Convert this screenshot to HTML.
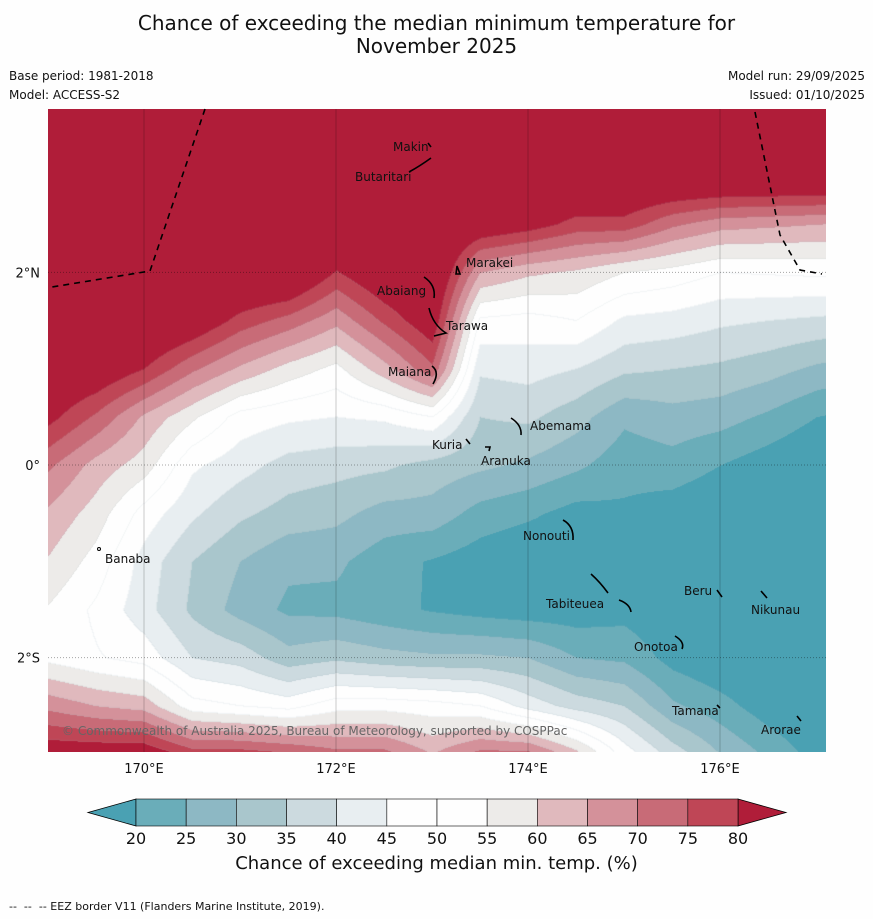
<!DOCTYPE html>
<html><head><meta charset="utf-8">
<style>
body{margin:0;background:#fefefe;font-family:"Liberation Sans","DejaVu Sans",sans-serif;}
#wrap{position:relative;width:873px;height:919px;overflow:hidden;background:#fefefe;}
.t{position:absolute;white-space:nowrap;color:#111;}
.lbl{position:absolute;font-family:"DejaVu Sans","Liberation Sans",sans-serif;font-size:12px;color:#111;white-space:nowrap;}
</style></head><body>
<div id="wrap">
<div class="t" style="left:0;width:873px;top:12px;text-align:center;font-size:20px;line-height:23px;font-family:'DejaVu Sans','Liberation Sans',sans-serif;">Chance of exceeding the median minimum temperature for<br>November 2025</div>
<div class="t" style="left:9px;top:69px;font-size:12px;font-family:'DejaVu Sans',sans-serif;">Base period: 1981-2018</div>
<div class="t" style="left:9px;top:88px;font-size:12px;font-family:'DejaVu Sans',sans-serif;">Model: ACCESS-S2</div>
<div class="t" style="right:8px;top:69px;font-size:12px;font-family:'DejaVu Sans',sans-serif;">Model run: 29/09/2025</div>
<div class="t" style="right:8px;top:88px;font-size:12px;font-family:'DejaVu Sans',sans-serif;">Issued: 01/10/2025</div>
<canvas id="map" width="778" height="643" style="position:absolute;left:48px;top:109px;"></canvas>
<svg id="ov" width="873" height="919" style="position:absolute;left:0;top:0;"></svg>
<div id="islands"></div>
<div class="t" style="left:62px;top:724px;font-size:12px;color:#666;font-family:'DejaVu Sans',sans-serif;">© Commonwealth of Australia 2025, Bureau of Meteorology, supported by COSPPac</div>
<div id="cbar"></div>
<div class="t" style="left:0;width:873px;text-align:center;top:853px;font-size:18px;font-family:'DejaVu Sans',sans-serif;">Chance of exceeding median min. temp. (%)</div>
<div class="t" style="left:9px;top:900px;font-size:11px;font-family:'DejaVu Sans',sans-serif;">-- &nbsp;-- &nbsp;-- EEZ border V11 (Flanders Marine Institute, 2019).</div>
</div>
<script>
// grid longitudes (columns) and latitudes (rows)
const lons=[168,168.5,169,169.5,170,170.5,171,171.5,172,172.5,173,173.5,174,174.5,175,175.5,176,176.5,177,177.5];
const lats=[4,3.5,3,2.5,2,1.5,1,0.5,0,-0.5,-1,-1.5,-2,-2.5,-3];
// probability values per longitude column (top to bottom by lat)
const c168_0=[90,90,90,90,90,90,90,87,80,72,65,59,57,75,90];
const c168_5=[90,90,90,90,90,90,90,84,76,68,62,57,55,72,88];
const c169_0=[90,90,90,90,90,90,88,82,71,64,59.5,54.5,53.5,68.5,85];
const c169_5=[90,90,90,90,90,90,86,74,63,57.7,53,49,50.5,65,85];
const c170_0=[90,90,90,90,90,90,80,64,57.5,48,43,42,48,63,85];
const c170_5=[90,90,90,90,90,86,71,56,46,41,35,34,40,52,78];
const c171_0=[90,90,90,90,90,78,64,48,42,36,30,28,38,50,78];
const c171_5=[90,90,90,90,90,73,58,46,38,33,26,24,32,48,76];
const c172_0=[90,90,90,90,79.5,66.5,53.5,45,36.9,31.5,26,23.5,34,53,72];
const c172_5=[90,90,90,90,87,76,63,46,36,28,22,21.5,32,53,72];
const c173_0=[90,90,90,90,90,85,74,50,33,28,19.5,19.5,31,52,65];
const c173_5=[90,90,90,86,65,49,41,35,31,23,17,18,31,50,72];
const c174_0=[90,90,90,83,61,48,42,36,29,21,15,17,30,43,72];
const c174_5=[90,90,90,78,59,50,40,32,26,18,15,17,25,38,62];
const c175_0=[90,90,90,78,55,44,36,26,22,19,16,18,24,35,48];
const c175_5=[90,90,90,71,53,43,35,28,23,17,15,15,18,26,38];
const c176_0=[90,90,90,67,50,41,34,27,20,15,15,15,15,22,30];
const c176_5=[90,90,90,66,50.5,40,32,24,17,14,14,14,14,17,24];
const c177_0=[90,90,90,65,51,39,29,20,14,14,14,14,14,14,18];
const c177_5=[90,90,90,64,51,38,27,18,13,13,13,13,13,13,15];
const cols=[c168_0,c168_5,c169_0,c169_5,c170_0,c170_5,c171_0,c171_5,c172_0,c172_5,c173_0,c173_5,c174_0,c174_5,c175_0,c175_5,c176_0,c176_5,c177_0,c177_5];
const levels=[20,25,30,35,40,45,50,55,60,65,70,75,80];
const binColors=['#4aa1b3','#6aadb9','#8db8c4','#a9c6cc','#ccdadf','#e8eef1','#fefefe','#fefefe','#edebe9','#e0b9bd','#d4919a','#c86b77','#bf4656','#b01d39'];
const lonTicks=[170,172,174,176];
const latTicks=[2,0,-2];
const latTickLabels=['2°N','0°','2°S'];

// axis functions
const X=lon=>144+(lon-170)*96;
const Y=lat=>465-lat*96.3;
const lonOf=x=>170+(x-144)/96;
const latOf=y=>(465-y)/96.3;

function val(lon,lat){
  let fi=(lon-lons[0])/(lons[1]-lons[0]); let fj=(lats[0]-lat)/(lats[0]-lats[1]);
  fi=Math.max(0,Math.min(lons.length-1.001,fi)); fj=Math.max(0,Math.min(lats.length-1.001,fj));
  const i=Math.floor(fi),j=Math.floor(fj),a=fi-i,b=fj-j;
  return cols[i][j]*(1-a)*(1-b)+cols[i+1][j]*a*(1-b)+cols[i][j+1]*(1-a)*b+cols[i+1][j+1]*a*b;
}
function bin(v){let k=0;while(k<levels.length&&v>=levels[k])k++;return k;}
function hex(h){return [parseInt(h.substr(1,2),16),parseInt(h.substr(3,2),16),parseInt(h.substr(5,2),16)];}
const rgb=binColors.map(hex);
(function(){
  const cv=document.getElementById('map'),ctx=cv.getContext('2d');
  const W=cv.width,H=cv.height,img=ctx.createImageData(W,H);
  const B=new Uint8Array(W*H);
  for(let y=0;y<H;y++)for(let x=0;x<W;x++){B[y*W+x]=bin(val(lonOf(x+48),latOf(y+109)));}
  for(let y=0;y<H;y++)for(let x=0;x<W;x++){
    const k=B[y*W+x];let c=rgb[k].slice();
    const edge=(x<W-1&&B[y*W+x+1]!==k)||(y<H-1&&B[(y+1)*W+x]!==k);
    if(edge){c=c.map((v,i)=>Math.round(v*0.88+[150,175,185][i]*0.12));}
    const p=(y*W+x)*4;img.data[p]=c[0];img.data[p+1]=c[1];img.data[p+2]=c[2];img.data[p+3]=255;
  }
  ctx.putImageData(img,0,0);
})();

const NS='http://www.w3.org/2000/svg';
const ov=document.getElementById('ov');
function mk(tag,attrs){const e=document.createElementNS(NS,tag);for(const k in attrs)e.setAttribute(k,attrs[k]);ov.appendChild(e);return e;}
lonTicks.forEach(l=>{
  const g=mk('line',{x1:X(l),x2:X(l),y1:109,y2:752,stroke:'rgba(0,0,0,0.25)','stroke-width':0.8});
  
  
  const t=mk('text',{x:X(l),y:773,'text-anchor':'middle','font-size':13,'font-family':'DejaVu Sans, Liberation Sans, sans-serif',fill:'#111'});
  t.textContent=l+'°E';
  
  
});
latTicks.forEach((l,i)=>{
  const g=mk('line',{x1:48,x2:826,y1:Y(l),y2:Y(l),stroke:'rgba(0,0,0,0.35)','stroke-width':1,'stroke-dasharray':'1,2'});
  
  
  const t=mk('text',{x:40,y:Y(l)+5,'text-anchor':'end','font-size':13,'font-family':'DejaVu Sans, Liberation Sans, sans-serif',fill:'#111'});
  t.textContent=latTickLabels[i];
  
  
});
const e1=mk('polyline',{points:'205,109 150,271 52,287',fill:'none',stroke:'#000','stroke-width':1.6,'stroke-dasharray':'6,5'});


const e2=mk('polyline',{points:'755,112 780,235 800,270 822,274',fill:'none',stroke:'#000','stroke-width':1.6,'stroke-dasharray':'6,5'});


// island shapes
const shapes=['M428,143 L431,147','M409,172 Q420,166 431,158','M424,277 Q436,285 434,298','M457,266 l3,8 l-4,0 z','M429,308 Q433,325 446,333 L434,336','M432,366 Q440,372 433,384','M511,418 Q522,425 521,435','M466,439 l4,5','M485,447 l5,0 l-1,4','M563,520 Q574,526 573,540','M591,574 Q600,582 608,593','M619,600 Q630,604 631,612','M675,636 Q685,642 682,649','M717,590 l5,7','M761,591 l6,7','M717,705 l3,3','M797,716 l4,5'];
shapes.forEach(d=>{const p=mk('path',{d:d,fill:'none',stroke:'#000','stroke-width':1.6});
  
  });
const ban=mk('circle',{cx:99,cy:549,r:1.5,fill:'none',stroke:'#000'});



const islandNames=['Makin','Butaritari','Marakei','Abaiang','Tarawa','Maiana','Abemama','Kuria','Aranuka','Banaba','Nonouti','Beru','Tabiteuea','Nikunau','Onotoa','Tamana','Arorae'];
const islandPos=[[393,140],[355,170],[466,256],[377,284],[446,319],[388,365],[530,419],[432,438],[481,454],[105,552],[523,529],[684,584],[546,597],[751,603],[634,640],[672,704],[761,723]];
const isl=document.getElementById('islands');
islandNames.forEach((n,i)=>{const d=document.createElement('div');d.className='lbl';
  d.style.left=islandPos[i][0]+'px';d.style.top=islandPos[i][1]+'px';d.textContent=n;
  
  
  isl.appendChild(d);});

// colorbar
const cb=document.getElementById('cbar');
const cbX0=136,cbW=602,cbY=799,cbH=27,seg=cbW/12;
const cs=document.createElementNS(NS,'svg');cs.setAttribute('width',873);cs.setAttribute('height',919);
cs.setAttribute('style','position:absolute;left:0;top:0');


cb.appendChild(cs);
function cmk(tag,attrs){const e=document.createElementNS(NS,tag);for(const k in attrs)e.setAttribute(k,attrs[k]);cs.appendChild(e);return e;}
const lt=cmk('polygon',{points:`${cbX0},${cbY} ${cbX0},${cbY+cbH} 88,${cbY+cbH/2}`,fill:binColors[0],stroke:'#000','stroke-width':0.8});


const rt=cmk('polygon',{points:`${cbX0+cbW},${cbY} ${cbX0+cbW},${cbY+cbH} 786,${cbY+cbH/2}`,fill:binColors[13],stroke:'#000','stroke-width':0.8});


for(let k=0;k<12;k++){
  const r=cmk('rect',{x:cbX0+k*seg,y:cbY,width:seg,height:cbH,fill:binColors[k+1],stroke:'#000','stroke-width':0.6});
  
  
}
levels.forEach((l,k)=>{
  const t=cmk('text',{x:cbX0+k*seg,y:844,'text-anchor':'middle','font-size':16,'font-family':'DejaVu Sans, Liberation Sans, sans-serif',fill:'#111'});
  t.textContent=l;
  
  
});
</script>
</body></html>
